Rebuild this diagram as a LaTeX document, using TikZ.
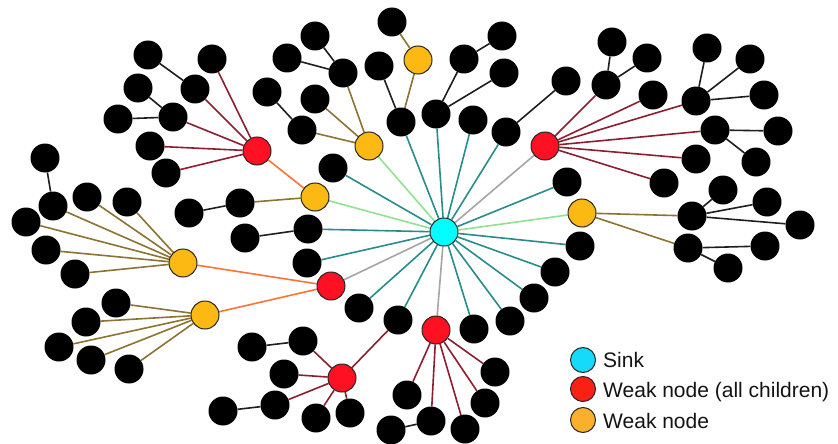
\documentclass[tikz,border=0pt]{standalone}
\usepackage{fontspec}
\setmainfont{Liberation Sans}
\usetikzlibrary{backgrounds}
\definecolor{cteal}{RGB}{40,140,140}
\definecolor{clgreen}{RGB}{144,226,144}
\definecolor{cgray}{RGB}{165,165,165}
\definecolor{cdred}{RGB}{140,30,48}
\definecolor{colive}{RGB}{140,115,50}
\definecolor{corange}{RGB}{255,115,55}
\definecolor{cedge}{RGB}{30,30,30}
\definecolor{csink}{RGB}{0,255,255}
\definecolor{cred}{RGB}{255,16,34}
\definecolor{cyel}{RGB}{253,185,19}
\definecolor{lsink}{RGB}{22,218,250}
\definecolor{lred}{RGB}{250,32,20}
\definecolor{lorange}{RGB}{250,176,42}
\definecolor{ctext}{RGB}{20,20,20}
\tikzset{
  blk/.style={circle, fill=black, minimum size=29pt, inner sep=0pt},
  colnode/.style={circle, draw=black!85, line width=1pt, minimum size=28pt, inner sep=0pt},
  sinknode/.style={colnode, fill=csink},
  rednode/.style={colnode, fill=cred},
  yelnode/.style={colnode, fill=cyel},
  legnode/.style={circle, draw=black!85, line width=1pt, minimum size=25pt, inner sep=0pt},
  legtext/.style={anchor=base west, inner sep=0pt, text=ctext, font=\fontsize{21}{25}\selectfont},
  ebase/.style={line width=1.6pt},
  ek/.style={ebase, draw=cedge},
  et/.style={ebase, draw=cteal},
  elg/.style={ebase, draw=clgreen},
  egr/.style={ebase, draw=cgray},
  er/.style={ebase, draw=cdred},
  eo/.style={ebase, draw=colive},
  ea/.style={ebase, draw=corange},
}
\begin{document}
\begin{tikzpicture}[x=1pt,y=-1pt]
\useasboundingbox (0,0) rectangle (838,444);
% coloured nodes
\node[sinknode] (S) at (444,232) {};
\node[rednode] (R1) at (257,151) {};
\node[rednode] (R2) at (545,146) {};
\node[rednode] (R3) at (331,286) {};
\node[rednode] (R4) at (436,330) {};
\node[rednode] (R5) at (342,378) {};
\node[yelnode] (Y1) at (418,60) {};
\node[yelnode] (Y2) at (369,146) {};
\node[yelnode] (Y3) at (315,197) {};
\node[yelnode] (Y4) at (582,213) {};
\node[yelnode] (Y5) at (183,263) {};
\node[yelnode] (Y6) at (205,315) {};
% R1 group
\node[blk] (a1) at (148,55) {};
\node[blk] (a2) at (212,59) {};
\node[blk] (a3) at (138,88) {};
\node[blk] (a4) at (195,89) {};
\node[blk] (a5) at (118,119) {};
\node[blk] (a6) at (173,117) {};
\node[blk] (a7) at (150,146) {};
\node[blk] (a8) at (166,173) {};
% Y5 group
\node[blk] (c1) at (45,158) {};
\node[blk] (c2) at (53,206) {};
\node[blk] (c3) at (87,197) {};
\node[blk] (c4) at (127,202) {};
\node[blk] (c5) at (26,222) {};
\node[blk] (c6) at (46,250) {};
\node[blk] (c7) at (75,274) {};
% Y6 group
\node[blk] (d1) at (116,303) {};
\node[blk] (d2) at (86,322) {};
\node[blk] (d3) at (59,347) {};
\node[blk] (d4) at (91,360) {};
\node[blk] (d5) at (129,369) {};
% Y3 group
\node[blk] (e1) at (189,213) {};
\node[blk] (e2) at (240,203) {};
% Y2 group
\node[blk] (f1) at (315,36) {};
\node[blk] (f2) at (287,58) {};
\node[blk] (f3) at (343,73) {};
\node[blk] (f4) at (267,92) {};
\node[blk] (f5) at (315,99) {};
\node[blk] (f6) at (302,130) {};
% top middle
\node[blk] (g1) at (392,22) {};
\node[blk] (g2) at (379,66) {};
\node[blk] (g3) at (401,122) {};
\node[blk] (h1) at (502,36) {};
\node[blk] (h2) at (464,59) {};
\node[blk] (h3) at (504,73) {};
\node[blk] (h4) at (436,114) {};
\node[blk] (i1) at (473,120) {};
\node[blk] (j1) at (506,132) {};
\node[blk] (j2) at (566,81) {};
\node[blk] (k1) at (333,168) {};
% R2 group
\node[blk] (m1) at (612,42) {};
\node[blk] (m2) at (647,58) {};
\node[blk] (m3) at (606,85) {};
\node[blk] (m4) at (653,95) {};
\node[blk] (m5) at (707,48) {};
\node[blk] (m6) at (750,59) {};
\node[blk] (m7) at (696,101) {};
\node[blk] (m8) at (764,95) {};
\node[blk] (m9) at (715,130) {};
\node[blk] (m10) at (778,131) {};
\node[blk] (m11) at (696,159) {};
\node[blk] (m12) at (756,162) {};
\node[blk] (m13) at (664,183) {};
% right lower
\node[blk] (n1) at (567,182) {};
\node[blk] (p1) at (723,190) {};
\node[blk] (p2) at (767,202) {};
\node[blk] (p3) at (692,216) {};
\node[blk] (p4) at (800,225) {};
\node[blk] (p5) at (688,248) {};
\node[blk] (p6) at (765,246) {};
\node[blk] (p7) at (728,268) {};
\node[blk] (q1) at (580,246) {};
\node[blk] (q2) at (555,272) {};
\node[blk] (q3) at (534,298) {};
\node[blk] (q4) at (510,321) {};
\node[blk] (q5) at (474,329) {};
% R4 group
\node[blk] (r1) at (407,395) {};
\node[blk] (r2) at (431,421) {};
\node[blk] (r3) at (391,430) {};
\node[blk] (r4) at (465,429) {};
\node[blk] (r5) at (485,403) {};
\node[blk] (r6) at (495,372) {};
% lower middle
\node[blk] (s1) at (398,320) {};
\node[blk] (s2) at (359,308) {};
\node[blk] (t0) at (245,238) {};
\node[blk] (t1) at (308,229) {};
\node[blk] (t2) at (307,263) {};
% R5 group
\node[blk] (u1) at (252,347) {};
\node[blk] (u2) at (303,341) {};
\node[blk] (u3) at (284,374) {};
\node[blk] (u4) at (223,411) {};
\node[blk] (u5) at (275,405) {};
\node[blk] (u6) at (316,418) {};
\node[blk] (u7) at (350,413) {};
% legend
\node[legnode, fill=lsink] (L1) at (583,360) {};
\node[legnode, fill=lred] (L2) at (583,389) {};
\node[legnode, fill=lorange] (L3) at (583,420) {};
\node[legtext] (T1) at (603,367) {Sink};
\node[legtext] (T2) at (603,397) {Weak node (all children)};
\node[legtext] (T3) at (603,428) {Weak node};
\begin{scope}[on background layer]
% sink edges
\foreach \n in {g3,h4,i1,j1,k1,n1,q1,q2,q3,q4,q5,s1,s2,t1,t2} {\draw[et] (S) -- (\n);}
\foreach \n in {Y2,Y3,Y4} {\draw[elg] (S) -- (\n);}
\foreach \n in {R2,R3,R4} {\draw[egr] (S) -- (\n);}
% orange
\draw[ea] (R1) -- (Y3);
\draw[ea] (Y5) -- (R3);
\draw[ea] (Y6) -- (R3);
% dark red
\foreach \n in {a2,a4,a6,a7,a8} {\draw[er] (R1) -- (\n);}
\foreach \n in {m3,m4,m7,m9,m11,m13} {\draw[er] (R2) -- (\n);}
\foreach \n in {r1,r2,r4,r5,r6} {\draw[er] (R4) -- (\n);}
\foreach \n in {s1,u2,u3,u5,u6,u7} {\draw[er] (R5) -- (\n);}
% olive
\foreach \n in {c2,c3,c4,c5,c6,c7} {\draw[eo] (Y5) -- (\n);}
\foreach \n in {d1,d2,d3,d4,d5} {\draw[eo] (Y6) -- (\n);}
\foreach \n in {f3,f5,f6} {\draw[eo] (Y2) -- (\n);}
\draw[eo] (Y3) -- (e2);
\draw[eo] (Y1) -- (g1);
\draw[eo] (Y1) -- (g3);
\draw[eo] (Y4) -- (p3);
\draw[eo] (Y4) -- (p5);
% black
\draw[ek] (a1) -- (a4);
\draw[ek] (a3) -- (a6);
\draw[ek] (a5) -- (a6);
\draw[ek] (c1) -- (c2);
\draw[ek] (e1) -- (e2);
\draw[ek] (f1) -- (f3);
\draw[ek] (f2) -- (f3);
\draw[ek] (f4) -- (f6);
\draw[ek] (g2) -- (g3);
\draw[ek] (h1) -- (h2);
\draw[ek] (h2) -- (h4);
\draw[ek] (h3) -- (h4);
\draw[ek] (j2) -- (j1);
\draw[ek] (m1) -- (m3);
\draw[ek] (m2) -- (m3);
\draw[ek] (m5) -- (m7);
\draw[ek] (m6) -- (m7);
\draw[ek] (m8) -- (m7);
\draw[ek] (m10) -- (m9);
\draw[ek] (m12) -- (m9);
\draw[ek] (p1) -- (p3);
\draw[ek] (p2) -- (p3);
\draw[ek] (p4) -- (p3);
\draw[ek] (p6) -- (p5);
\draw[ek] (p7) -- (p5);
\draw[ek] (r3) -- (r2);
\draw[ek] (t0) -- (t1);
\draw[ek] (u1) -- (u2);
\draw[ek] (u4) -- (u5);
\end{scope}
\end{tikzpicture}
\end{document}
